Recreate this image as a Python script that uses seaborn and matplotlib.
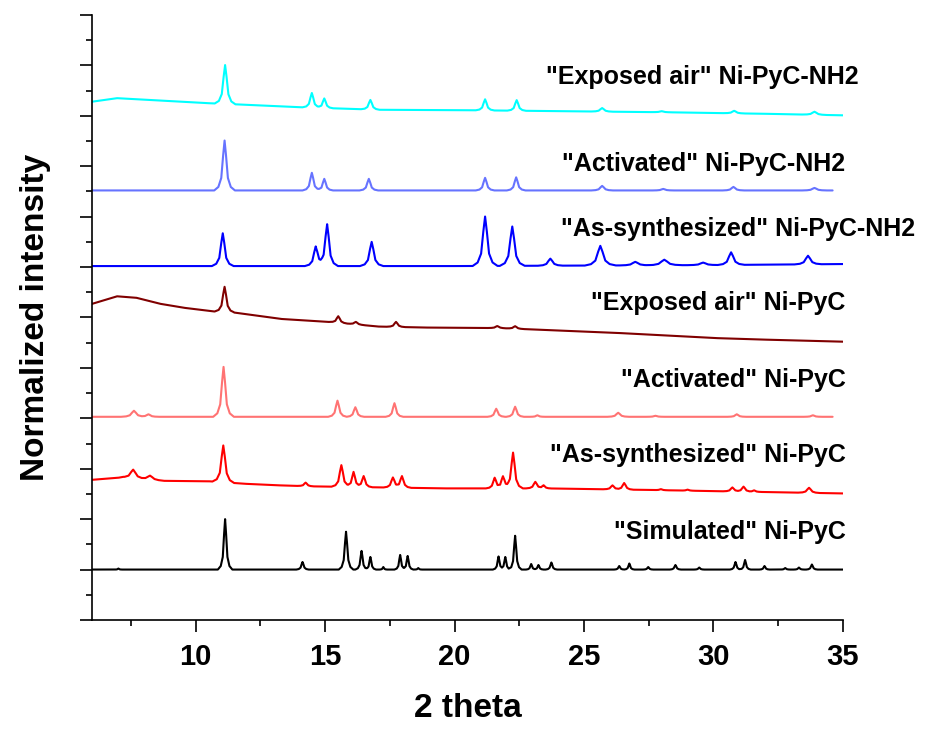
import numpy as np
import matplotlib
matplotlib.use('Agg')
import matplotlib.pyplot as plt
import seaborn as sns

# Peak tables (2theta position, height above background, half base width)
# plus background anchor points for each trace; y offsets are the stacked positions.

sim_pos = [7.02, 11.14, 14.13, 15.81, 16.41, 16.75, 17.25, 17.90, 18.19, 18.60, 21.70, 21.96, 22.34,
           22.96, 23.24, 23.74, 26.36, 26.75, 27.48, 28.53, 29.45, 30.85, 31.22, 31.97, 32.77, 33.30, 33.80]
sim_h = [0.02, 1.00, 0.15, 0.75, 0.37, 0.25, 0.05, 0.29, 0.27, 0.03, 0.26, 0.25, 0.67,
         0.11, 0.09, 0.14, 0.07, 0.12, 0.05, 0.09, 0.04, 0.15, 0.19, 0.07, 0.03, 0.04, 0.10]
sim_w = [0.15, 0.28, 0.24, 0.28, 0.24, 0.22, 0.15, 0.22, 0.22, 0.15, 0.22, 0.22, 0.25,
         0.2, 0.2, 0.22, 0.2, 0.2, 0.2, 0.22, 0.2, 0.22, 0.22, 0.2, 0.2, 0.2, 0.22]
sim_bg_x = [6, 35]
sim_bg_y = [1.0, 1.0]

asn_pos = [7.59, 8.24, 11.07, 14.25, 15.63, 16.10, 16.49, 17.62, 17.97, 21.55, 21.87, 22.26,
           23.12, 23.44, 26.10, 26.55, 27.97, 29.00, 30.73, 31.16, 31.57, 33.69]
asn_h = [0.17, 0.08, 0.73, 0.07, 0.43, 0.30, 0.22, 0.20, 0.23, 0.21, 0.24, 0.71,
         0.13, 0.06, 0.08, 0.13, 0.02, 0.02, 0.08, 0.10, 0.03, 0.10]
asn_w = [0.55, 0.55, 0.42, 0.32, 0.38, 0.34, 0.34, 0.36, 0.36, 0.34, 0.34, 0.38,
         0.36, 0.3, 0.36, 0.36, 0.3, 0.3, 0.36, 0.36, 0.3, 0.42]
asn_bg_x = [6.0, 7.21, 8.75, 10.55, 11.96, 13.25, 14.54, 17.11, 19.68, 22.76, 23.53, 27.39, 35.0]
asn_bg_y = [2.78, 2.83, 2.76, 2.75, 2.70, 2.67, 2.65, 2.63, 2.61, 2.61, 2.61, 2.58, 2.51]

act_pos = [7.62, 8.18, 11.08, 15.48, 16.17, 17.68, 21.61, 22.34, 23.20, 26.32, 27.76, 30.90, 33.84]
act_h = [0.12, 0.05, 0.99, 0.32, 0.19, 0.27, 0.16, 0.20, 0.03, 0.08, 0.02, 0.05, 0.03]
act_w = [0.5, 0.42, 0.4, 0.36, 0.34, 0.34, 0.34, 0.34, 0.3, 0.42, 0.36, 0.36, 0.36]
act_bg_x = [6, 34.6]
act_bg_y = [4.03, 4.03]

exp_pos = [11.12, 15.51, 16.19, 17.74, 21.65, 22.34]
exp_h = [0.50, 0.13, 0.05, 0.10, 0.04, 0.05]
exp_w = [0.38, 0.36, 0.36, 0.36, 0.36, 0.36]
exp_bg_x = [6.0, 6.97, 7.72, 8.65, 9.59, 10.71, 11.46, 13.33, 15.2, 17.07, 18.94, 21.74,
            24.55, 26.42, 28.29, 30.16, 32.03, 35.0]
exp_bg_y = [6.27, 6.42, 6.39, 6.27, 6.19, 6.12, 6.10, 5.97, 5.91, 5.82, 5.80, 5.79,
            5.73, 5.69, 5.64, 5.59, 5.56, 5.52]

asn2_pos = [11.05, 14.64, 15.08, 16.80, 21.18, 22.23, 23.70, 25.63, 26.98, 28.10, 29.60, 30.68, 33.65]
asn2_h = [0.65, 0.39, 0.83, 0.48, 0.98, 0.78, 0.14, 0.39, 0.07, 0.11, 0.05, 0.25, 0.17]
asn2_w = [0.42, 0.42, 0.42, 0.45, 0.48, 0.48, 0.48, 0.6, 0.6, 0.7, 0.6, 0.52, 0.52]
asn2_bg_x = [6, 20, 30, 35]
asn2_bg_y = [7.02, 7.02, 7.04, 7.06]

act2_pos = [11.12, 14.49, 14.97, 16.69, 21.18, 22.38, 25.70, 28.06, 30.77, 33.90]
act2_h = [0.99, 0.35, 0.23, 0.23, 0.25, 0.26, 0.09, 0.03, 0.07, 0.05]
act2_w = [0.4, 0.36, 0.34, 0.36, 0.36, 0.36, 0.42, 0.42, 0.42, 0.48]
act2_bg_x = [6, 34.6]
act2_bg_y = [8.52, 8.52]

exp2_pos = [11.14, 14.49, 14.97, 16.75, 21.18, 22.40, 25.70, 28.00, 30.80, 33.90]
exp2_h = [0.77, 0.29, 0.19, 0.19, 0.22, 0.21, 0.07, 0.02, 0.05, 0.06]
exp2_w = [0.4, 0.36, 0.34, 0.36, 0.36, 0.36, 0.42, 0.42, 0.42, 0.48]
exp2_bg_x = [6.0, 6.97, 10.52, 11.46, 14.07, 17.07, 20.81, 24.55, 28.29, 32.03, 35.0]
exp2_bg_y = [10.28, 10.35, 10.25, 10.23, 10.17, 10.12, 10.11, 10.09, 10.07, 10.04, 10.01]

labels = ['"Simulated" Ni-PyC', '"As-synthesized" Ni-PyC', '"Activated" Ni-PyC',
          '"Exposed air" Ni-PyC', '"As-synthesized" Ni-PyC-NH2', '"Activated" Ni-PyC-NH2',
          '"Exposed air" Ni-PyC-NH2']
colors = ['#000000', '#FF0000', '#FF7373', '#800000', '#0000FF', '#6673FF', '#00FFFF']
label_y = [1.61, 3.13, 4.62, 6.15, 7.62, 8.91, 10.63]
label_x = [35.1, 35.1, 35.1, 35.1, 37.8, 35.1, 35.6]

traces = [
    (sim_pos, sim_h, sim_w, sim_bg_x, sim_bg_y),
    (asn_pos, asn_h, asn_w, asn_bg_x, asn_bg_y),
    (act_pos, act_h, act_w, act_bg_x, act_bg_y),
    (exp_pos, exp_h, exp_w, exp_bg_x, exp_bg_y),
    (asn2_pos, asn2_h, asn2_w, asn2_bg_x, asn2_bg_y),
    (act2_pos, act2_h, act2_w, act2_bg_x, act2_bg_y),
    (exp2_pos, exp2_h, exp2_w, exp2_bg_x, exp2_bg_y),
]

# vertex shape of a peak in units of its half base width
shape_off = np.array([-1, -0.6, -0.32, -0.14, 0, 0.14, 0.32, 0.6, 1])
shape_frac = np.array([0, 0.07, 0.25, 0.7, 1, 0.7, 0.25, 0.07, 0])


def build_trace(pos, h, w, bg_x, bg_y):
    xs = list(bg_x)
    for p, ww in zip(pos, w):
        xs.extend(p + shape_off * ww)
    xs = np.unique(np.clip(xs, bg_x[0], bg_x[-1]))
    ys = np.interp(xs, bg_x, bg_y)
    for p, hh, ww in zip(pos, h, w):
        ys = ys + np.interp(xs, p + shape_off * ww, hh * shape_frac, left=0, right=0)
    return xs, ys


sns.set_style('ticks')
plt.rcParams['font.family'] = ['Liberation Sans', 'DejaVu Sans']
plt.rcParams['font.weight'] = 'bold'
for key in ['text.color', 'axes.labelcolor', 'xtick.color', 'ytick.color', 'axes.edgecolor']:
    plt.rcParams[key] = 'black'

fig = plt.figure(figsize=(9.33, 7.35), dpi=100)
ax = fig.add_axes([0.0986, 0.1565, 0.8049, 0.8231])

for (pos, h, w, bx, by), c in zip(traces, colors):
    xs, ys = build_trace(pos, h, w, bx, by)
    sns.lineplot(x=xs, y=ys, color=c, linewidth=1.5, sort=False, estimator=None, ax=ax)

for lab, lx, ly in zip(labels, label_x, label_y):
    ax.text(lx, ly, lab, ha='right', va='baseline', fontsize=18, fontweight='bold',
            color='black', clip_on=False)

ax.set_xlim(6, 35)
ax.set_ylim(0, 12)
ax.set_xticks([10, 15, 20, 25, 30, 35])
ax.set_xticks([7.5, 12.5, 17.5, 22.5, 27.5, 32.5], minor=True)
ax.set_yticks(np.arange(0, 13, 1))
ax.set_yticks(np.arange(0.5, 12, 1), minor=True)
ax.set_yticklabels([])
ax.tick_params(axis='both', which='major', direction='out', length=8.5, width=1.2, labelsize=21, pad=8)
ax.tick_params(axis='both', which='minor', direction='out', length=4.5, width=1.2)
for lbl in ax.get_xticklabels():
    lbl.set_fontweight('bold')
sns.despine(ax=ax)
ax.spines['left'].set_linewidth(1.2)
ax.spines['bottom'].set_linewidth(1.2)

ax.set_xlabel('2 theta', fontsize=24, fontweight='bold', labelpad=16)
ax.set_ylabel('Normalized intensity', fontsize=24, fontweight='bold', labelpad=13)

fig.savefig('out.png', dpi=100)
